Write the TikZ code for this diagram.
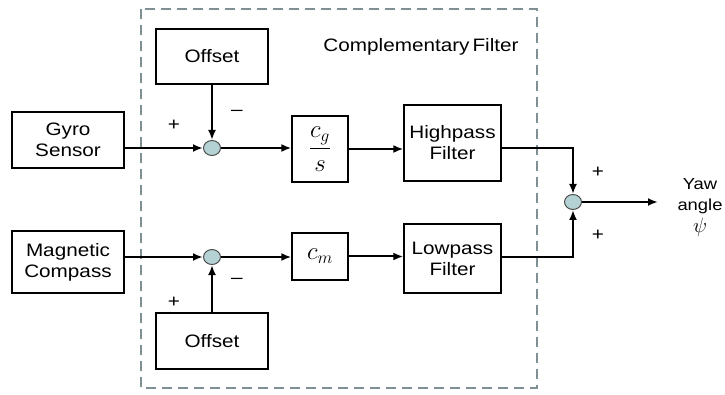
\documentclass[tikz,border=0pt]{standalone}
\usepackage{fontspec}
\setmainfont{Liberation Sans}[FakeStretch=1.15]
\usetikzlibrary{arrows.meta,shapes.geometric}
\definecolor{sumfill}{HTML}{B4D2D4}
\definecolor{dashc}{HTML}{7F9094}
\begin{document}
\begin{tikzpicture}[x=1pt,y=-1pt,
  blk/.style={draw,line width=1.3pt,rectangle,inner sep=0pt,align=center,font=\fontsize{18}{21}\selectfont},
  sumnode/.style={draw=black!70,line width=1pt,ellipse,fill=sumfill,minimum width=17pt,minimum height=15pt,inner sep=0pt},
  sig/.style={line width=2pt,-{Latex[length=10pt,width=8pt]}},
  lbl/.style={font=\fontsize{18}{21}\selectfont}]
\useasboundingbox (0,0) rectangle (725,395);
\draw[dashc,line width=2.5pt,dash pattern=on 10pt off 6pt] (141,9) rectangle (537,388);
\node[lbl] (title) at (421,47) {Complementary\,Filter};
\node[blk,minimum width=112pt,minimum height=55pt] (offT) at (212,56.5) {\raisebox{-8pt}{Offset}};
\node[blk,minimum width=112pt,minimum height=56pt] (gyro) at (68,140) {Gyro\\Sensor};
\node[blk,minimum width=112pt,minimum height=62pt] (mag) at (68,262) {Magnetic\\Compass};
\node[blk,minimum width=112pt,minimum height=56pt] (offB) at (212,341) {\raisebox{-8pt}{Offset}};
\node[blk,minimum width=56pt,minimum height=66pt,font=\fontsize{24}{26}\selectfont] (cg) at (320,149) {$\displaystyle\frac{c_g}{s}$};
\node[blk,minimum width=56pt,minimum height=47pt,font=\fontsize{26}{28}\selectfont] (cm) at (320,256.5) {$c_m$};
\node[blk,minimum width=97pt,minimum height=76pt] (hp) at (452.5,143) {Highpass\\Filter};
\node[blk,minimum width=97pt,minimum height=69pt] (lp) at (452.5,258.5) {Lowpass\\Filter};
\node[sumnode] (s1) at (212,148) {};
\node[sumnode] (s2) at (212,257) {};
\node[sumnode] (s3) at (573,202) {};
\coordinate (out) at (658,202);
\node[align=center,font=\fontsize{16}{21}\selectfont] (yaw) at (700,208) {Yaw\\angle\\[1pt]{\fontsize{22}{24}\selectfont$\psi$}};
\draw[sig] (gyro.east |- s1) -- (s1);
\draw[sig] (offT.south) -- (s1);
\draw[sig] (s1) -- (s1 -| cg.west);
\draw[sig] (cg.east) -- (cg.east -| hp.west);
\draw[sig] (hp.east |- s1) -| (s3);
\draw[sig] (mag.east |- s2) -- (s2);
\draw[sig] (offB.north) -- (s2);
\draw[sig] (s2) -- (s2 -| cm.west);
\draw[sig] (cm.east) -- (cm.east -| lp.west);
\draw[sig] (lp.east |- s2) -| (s3);
\draw[sig] (s3) -- (out);
\node[lbl] (p1) at (174,125) {+};
\node[lbl] (m1) at (237,113) {\textendash};
\node[lbl] (p2) at (174,302) {+};
\node[lbl] (m2) at (237,281) {\textendash};
\node[lbl] (p3) at (598,172) {+};
\node[lbl] (p4) at (598,235) {+};
\end{tikzpicture}
\end{document}
